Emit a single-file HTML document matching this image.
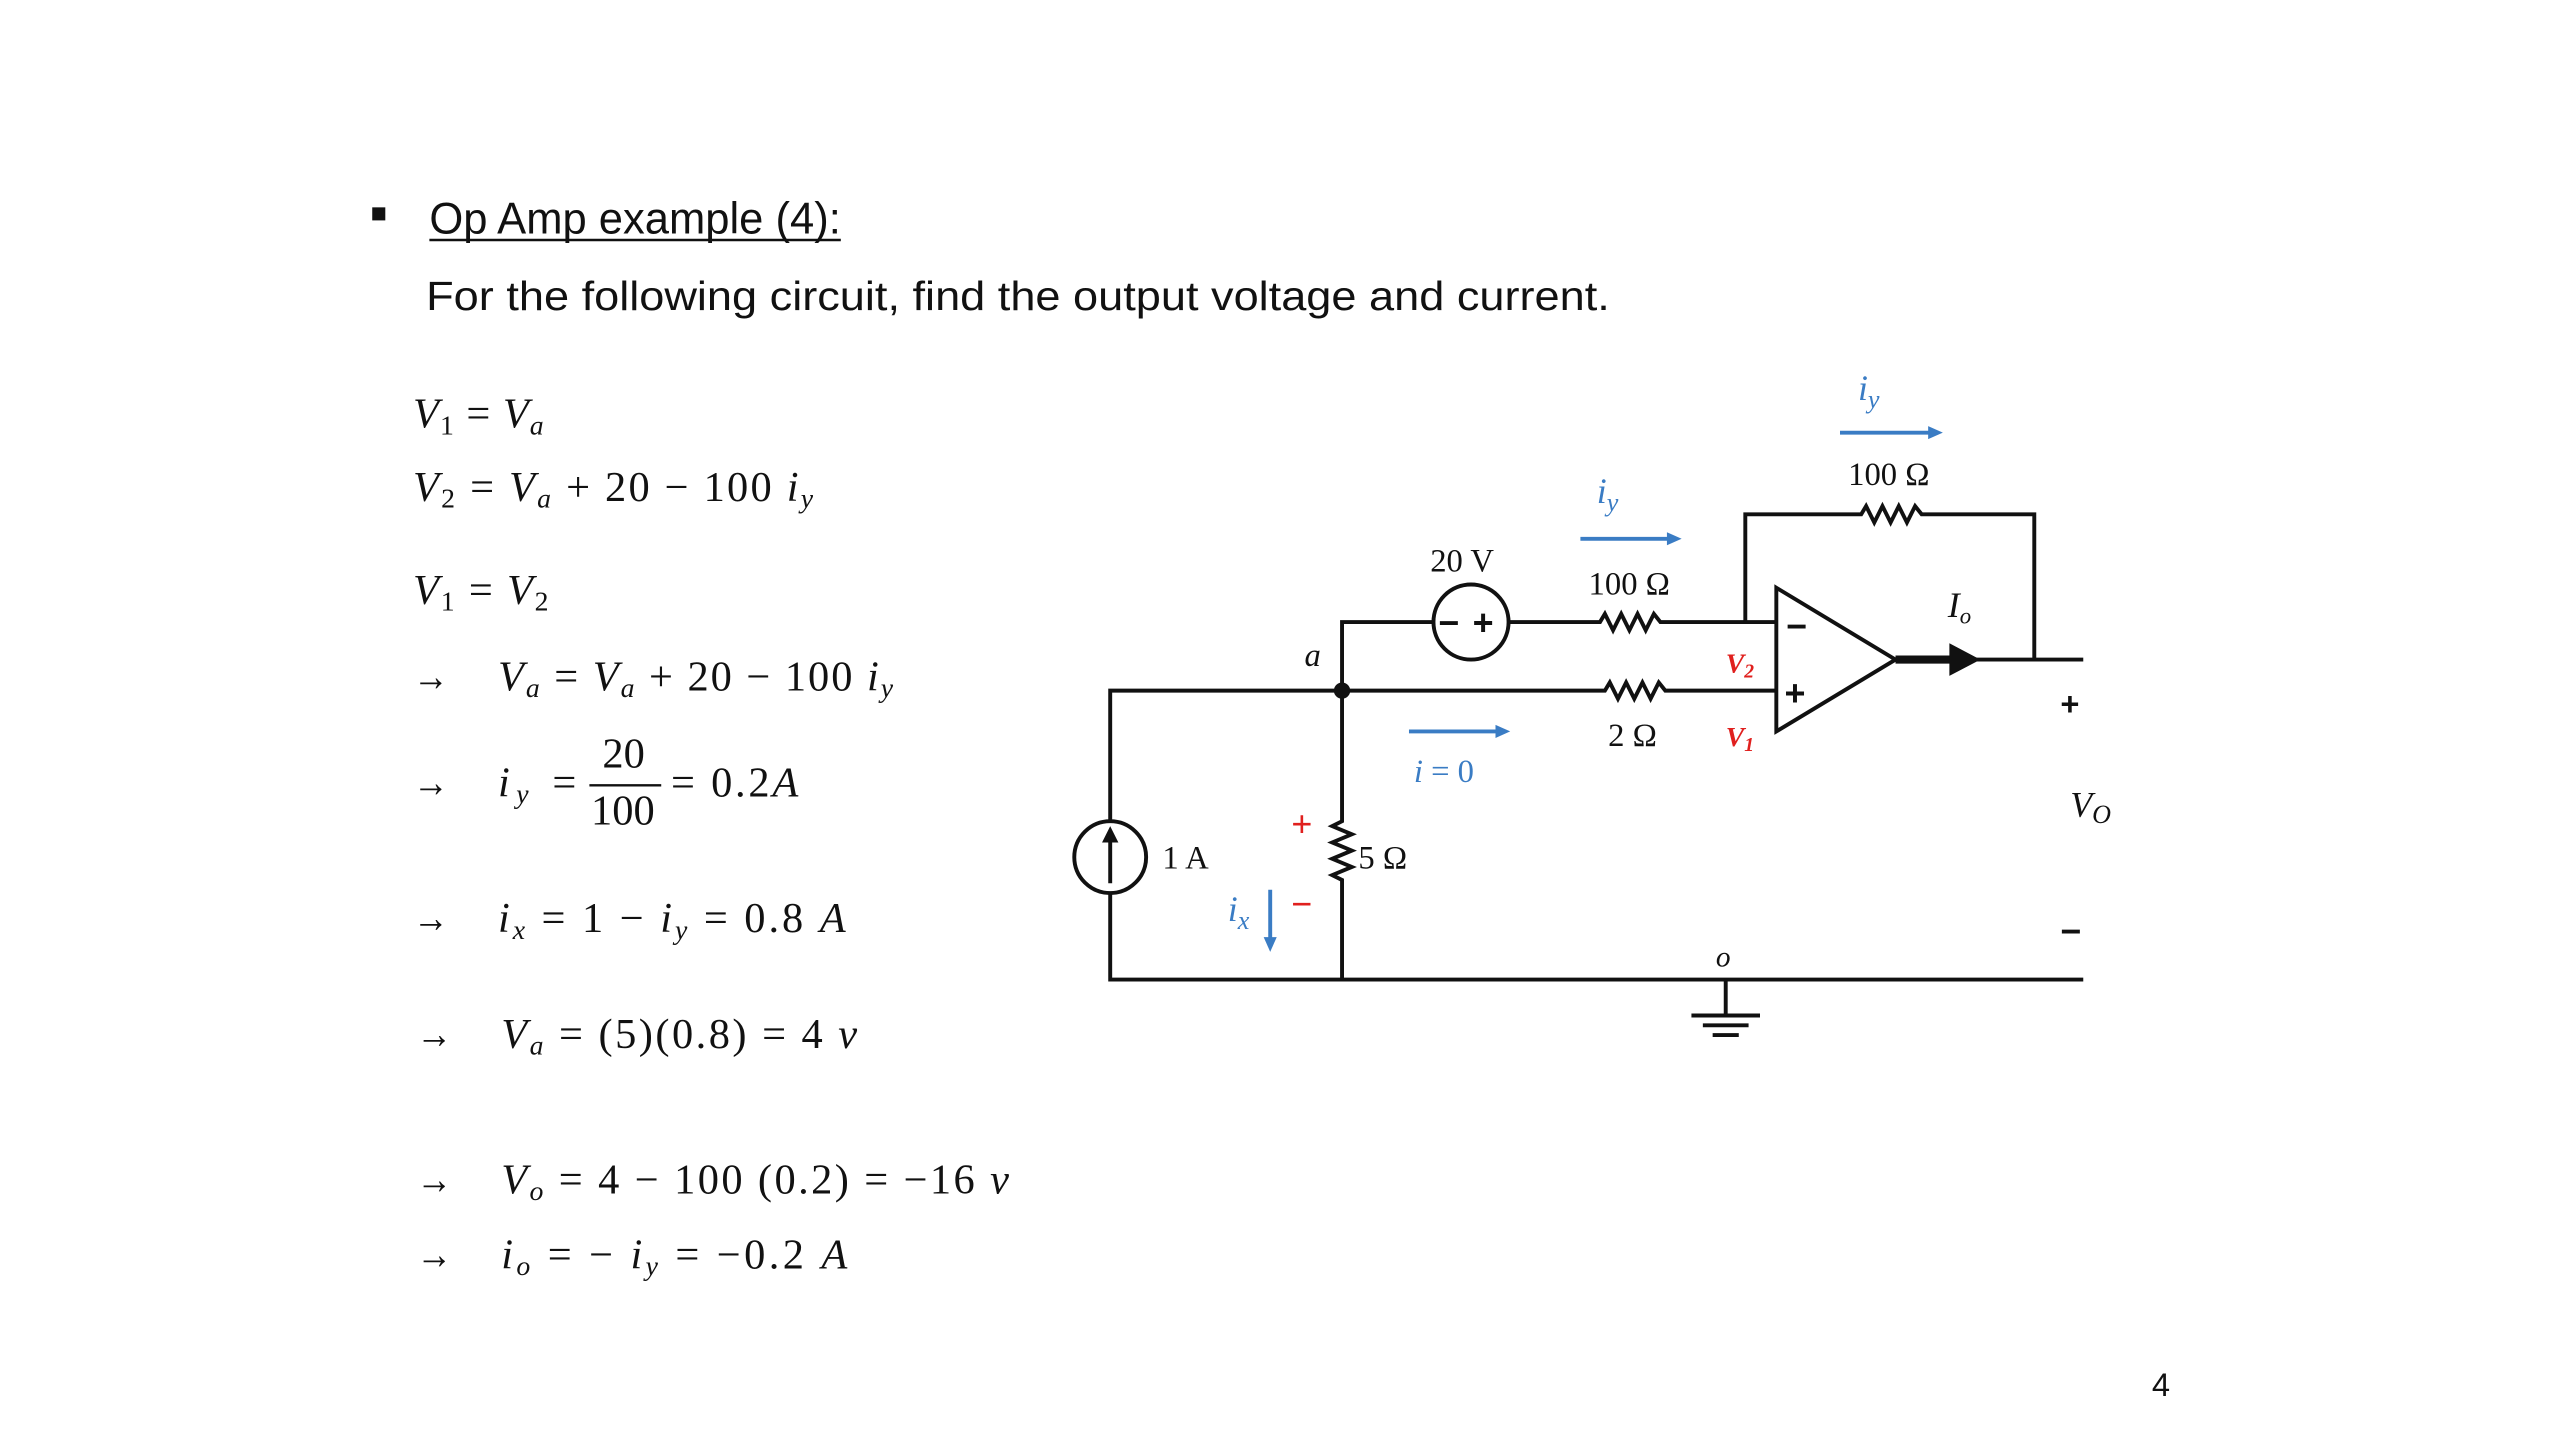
<!DOCTYPE html>
<html><head><meta charset="utf-8"><style>
html,body{margin:0;padding:0;background:#fff;}
svg{display:block;}
.c{font-family:"Liberation Sans",sans-serif;fill:#111;}
.m{font-family:"Liberation Serif",serif;fill:#111;font-size:26px;}
.l{font-family:"Liberation Serif",serif;fill:#111;font-size:20px;}
.w{stroke:#111;stroke-width:2.4;fill:none;}
.b{stroke:#3a7cc4;stroke-width:2.4;fill:none;}
</style></head><body>
<svg width="2560" height="1440" viewBox="0 0 1568 882" xmlns="http://www.w3.org/2000/svg">
<rect width="1568" height="882" fill="#fff"/>
<rect x="228" y="127" width="8" height="8" fill="#111"/>
<text class="c" x="263" y="143" font-size="27" textLength="252" lengthAdjust="spacingAndGlyphs">Op Amp example (4):</text>
<line x1="263" y1="147" x2="515" y2="147" stroke="#111" stroke-width="1.6"/>
<text class="c" x="261" y="190" font-size="25" textLength="725" lengthAdjust="spacingAndGlyphs">For the following circuit, find the output voltage and current.</text>
<g class="m">
<text x="253" y="262" textLength="80" lengthAdjust="spacing"><tspan font-style="italic">V</tspan><tspan font-size="17" dy="4">1</tspan><tspan dy="-4"> = </tspan><tspan font-style="italic">V</tspan><tspan font-style="italic" font-size="17" dy="4">a</tspan></text>
<text x="253" y="307" textLength="245" lengthAdjust="spacing"><tspan font-style="italic">V</tspan><tspan font-size="17" dy="4">2</tspan><tspan dy="-4"> = </tspan><tspan font-style="italic">V</tspan><tspan font-style="italic" font-size="17" dy="4">a</tspan><tspan dy="-4"> + 20 − 100 </tspan><tspan font-style="italic">i</tspan><tspan font-style="italic" font-size="17" dy="4">y</tspan></text>
<text x="253" y="370" textLength="83" lengthAdjust="spacing"><tspan font-style="italic">V</tspan><tspan font-size="17" dy="4">1</tspan><tspan dy="-4"> = </tspan><tspan font-style="italic">V</tspan><tspan font-size="17" dy="4">2</tspan></text>
<text x="253" y="423" textLength="22" lengthAdjust="spacingAndGlyphs">→</text>
<text x="305" y="423" textLength="242" lengthAdjust="spacing"><tspan font-style="italic">V</tspan><tspan font-style="italic" font-size="17" dy="4">a</tspan><tspan dy="-4"> = </tspan><tspan font-style="italic">V</tspan><tspan font-style="italic" font-size="17" dy="4">a</tspan><tspan dy="-4"> + 20 − 100 </tspan><tspan font-style="italic">i</tspan><tspan font-style="italic" font-size="17" dy="4">y</tspan></text>
<text x="253" y="488" textLength="22" lengthAdjust="spacingAndGlyphs">→</text>
<text x="305" y="488" textLength="48" lengthAdjust="spacing"><tspan font-style="italic">i</tspan><tspan font-style="italic" font-size="17" dy="4">y</tspan><tspan dy="-4"> =</tspan></text>
<text x="369" y="470">20</text>
<line x1="361" y1="481" x2="405" y2="481" stroke="#111" stroke-width="1.5"/>
<text x="362" y="505">100</text>
<text x="411" y="488" textLength="78" lengthAdjust="spacing">= 0.2<tspan font-style="italic">A</tspan></text>
<text x="253" y="571" textLength="22" lengthAdjust="spacingAndGlyphs">→</text>
<text x="305" y="571" textLength="213" lengthAdjust="spacing"><tspan font-style="italic">i</tspan><tspan font-style="italic" font-size="17" dy="4">x</tspan><tspan dy="-4"> = 1 − </tspan><tspan font-style="italic">i</tspan><tspan font-style="italic" font-size="17" dy="4">y</tspan><tspan dy="-4"> = 0.8 </tspan><tspan font-style="italic">A</tspan></text>
<text x="255" y="642" textLength="22" lengthAdjust="spacingAndGlyphs">→</text>
<text x="307" y="642" textLength="218" lengthAdjust="spacing"><tspan font-style="italic">V</tspan><tspan font-style="italic" font-size="17" dy="4">a</tspan><tspan dy="-4"> = (5)(0.8) = 4 </tspan><tspan font-style="italic">v</tspan></text>
<text x="255" y="731" textLength="22" lengthAdjust="spacingAndGlyphs">→</text>
<text x="307" y="731" textLength="311" lengthAdjust="spacing"><tspan font-style="italic">V</tspan><tspan font-style="italic" font-size="17" dy="4">o</tspan><tspan dy="-4"> = 4 − 100 (0.2) = −16 </tspan><tspan font-style="italic">v</tspan></text>
<text x="255" y="777" textLength="22" lengthAdjust="spacingAndGlyphs">→</text>
<text x="307" y="777" textLength="212" lengthAdjust="spacing"><tspan font-style="italic">i</tspan><tspan font-style="italic" font-size="17" dy="4">o</tspan><tspan dy="-4"> = − </tspan><tspan font-style="italic">i</tspan><tspan font-style="italic" font-size="17" dy="4">y</tspan><tspan dy="-4"> = −0.2 </tspan><tspan font-style="italic">A</tspan></text>
</g>
<text class="c" x="1318" y="855" font-size="20">4</text>
<path class="w" d="M680,503 V423 H983 l3,-5 l5,10 l5,-10 l5,10 l5,-10 l5,10 l5,-10 l4,5 H1088"/>
<path class="w" d="M680,547 V600 H1276"/>
<path class="w" d="M822,423 V503 l-6,3 l12,5 l-12,5 l12,5 l-12,5 l12,5 l-12,5 l6,3 V600"/>
<path class="w" d="M822,423 V381 H878"/>
<path class="w" d="M924,381 H980 l3,-5 l5,10 l5,-10 l5,10 l5,-10 l5,10 l5,-10 l4,5 H1088"/>
<path class="w" d="M1069,381 V315 H1140 l3,-5 l5,10 l5,-10 l5,10 l5,-10 l5,10 l5,-10 l4,5 H1246 V404"/>
<circle cx="822" cy="423" r="5" fill="#111"/>
<circle class="w" cx="680" cy="525" r="22"/>
<path class="w" d="M680,541 V512"/>
<path d="M680,506 l-5,10 h10z" fill="#111"/>
<circle class="w" cx="901" cy="381" r="23"/>
<text class="c" x="881" y="389" font-size="22" font-weight="bold">−</text>
<text class="c" x="902" y="389" font-size="22" font-weight="bold">+</text>
<path class="w" d="M1088,360 V448 L1161,404 Z"/>
<text class="c" x="1094" y="391" font-size="22" font-weight="bold">−</text>
<text class="c" x="1093" y="432" font-size="22" font-weight="bold">+</text>
<path d="M1161,404 H1196" stroke="#111" stroke-width="5"/>
<path d="M1194,394 L1213,404 L1194,414 Z" fill="#111"/>
<path class="w" d="M1210,404 H1276"/>
<path class="w" d="M1057,600 V622 M1036,622 H1078 M1043,628 H1071 M1049,634 H1065"/>
<g class="l">
<text x="876" y="350">20 V</text>
<text x="973" y="364">100 Ω</text>
<text x="1132" y="297">100 Ω</text>
<text x="985" y="457">2 Ω</text>
<text x="712" y="532">1 A</text>
<text x="832" y="532">5 Ω</text>
<text x="799" y="408" font-style="italic">a</text>
<text x="1051" y="592" font-style="italic" font-size="18">o</text>
<text x="1193" y="378" font-style="italic" font-size="22">I<tspan font-size="14" dy="4">o</tspan></text>
<text x="1268" y="500" font-style="italic" font-size="22">V<tspan font-size="16" dy="4">O</tspan></text>
</g>
<text class="c" x="1262" y="438" font-size="20" font-weight="bold">+</text>
<text class="c" x="1262" y="578" font-size="22" font-weight="bold">−</text>
<g font-family="Liberation Serif,serif" fill="#e0201e" font-weight="bold" font-style="italic">
<text x="1057" y="412" font-size="17">V<tspan font-size="12" dy="3">2</tspan></text>
<text x="1057" y="457" font-size="17">V<tspan font-size="12" dy="3">1</tspan></text>
</g>
<text x="791" y="512" font-family="Liberation Sans,sans-serif" fill="#e0201e" font-size="22">+</text>
<text x="791" y="561" font-family="Liberation Sans,sans-serif" fill="#e0201e" font-size="22">−</text>
<path class="b" d="M968,330 H1022"/><path d="M1030,330 l-9,-4 v8z" fill="#3a7cc4"/>
<path class="b" d="M1127,265 H1182"/><path d="M1190,265 l-9,-4 v8z" fill="#3a7cc4"/>
<path class="b" d="M863,448 H917"/><path d="M925,448 l-9,-4 v8z" fill="#3a7cc4"/>
<path class="b" d="M778,545 V575"/><path d="M778,583 l-4,-9 h8z" fill="#3a7cc4"/>
<g font-family="Liberation Serif,serif" fill="#3a7cc4" font-style="italic" font-size="22">
<text x="978" y="308">i<tspan font-size="16" dy="5">y</tspan></text>
<text x="1138" y="245">i<tspan font-size="16" dy="5">y</tspan></text>
<text x="752" y="564">i<tspan font-size="16" dy="5">x</tspan></text>
<text x="866" y="479" font-size="20">i <tspan font-style="normal">= 0</tspan></text>
</g>
</svg>
</body></html>
